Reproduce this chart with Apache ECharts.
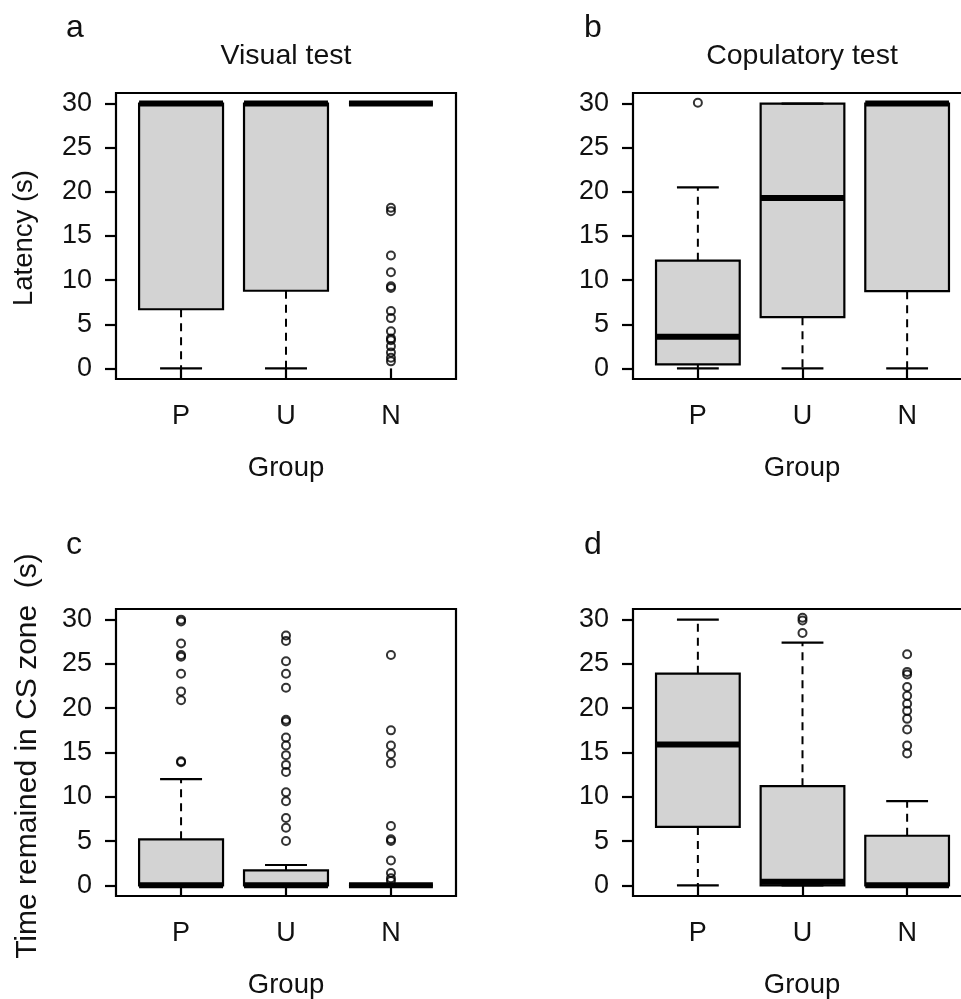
<!DOCTYPE html>
<html>
<head>
<meta charset="utf-8">
<script src="https://cdn.jsdelivr.net/npm/echarts@6/dist/echarts.min.js"></script>
<style>html,body{margin:0;padding:0;background:#fff;overflow:hidden;}#c{width:985px;height:999px;}</style>
</head>
<body>
<div id="c"></div>
<script>
// Categories and tick labels
const groups = ['P', 'U', 'N'];
const yTicks = [0, 5, 10, 15, 20, 25, 30];

// Box statistics per group: [lower whisker, Q1, median, Q3, upper whisker]
const visualLatencyStats = [[0, 6.7, 30, 30, 30], [0, 8.8, 30, 30, 30], [30, 30, 30, 30, 30]];
const visualLatencyOutliersP = [];
const visualLatencyOutliersU = [];
const visualLatencyOutliersN = [18.2, 17.8, 12.8, 10.9, 9.3, 9.1, 6.5, 5.7, 4.2, 3.4, 3.2, 2.5, 1.8, 1.2, 0.8];

const copulatoryLatencyStats = [[0, 0.45, 3.6, 12.2, 20.5], [0, 5.8, 19.3, 30, 30], [0, 8.75, 30, 30, 30]];
const copulatoryLatencyOutliersP = [30.1];
const copulatoryLatencyOutliersU = [];
const copulatoryLatencyOutliersN = [];

const visualTimeStats = [[0, 0, 0, 5.2, 12.0], [0, 0, 0, 1.7, 2.3], [0, 0, 0, 0, 0]];
const visualTimeOutliersP = [30.0, 29.8, 27.3, 26.0, 25.8, 23.9, 21.9, 20.9, 14.0, 13.9];
const visualTimeOutliersU = [28.2, 27.6, 25.3, 23.9, 22.3, 18.7, 18.5, 16.7, 15.8, 14.7, 13.6, 12.8, 10.5, 9.5, 7.6, 6.5, 5.0];
const visualTimeOutliersN = [26.0, 17.5, 15.8, 14.8, 13.8, 6.7, 5.2, 5.0, 2.8, 1.4, 0.8, 0.5];

const copulatoryTimeStats = [[0, 6.6, 15.9, 23.9, 30], [0, 0, 0.4, 11.2, 27.4], [0, 0, 0, 5.6, 9.5]];
const copulatoryTimeOutliersP = [];
const copulatoryTimeOutliersU = [30.2, 29.9, 28.5];
const copulatoryTimeOutliersN = [26.1, 24.1, 23.8, 22.4, 21.4, 20.5, 19.7, 18.8, 17.6, 15.8, 14.9];

const panels = [
  { stats: visualLatencyStats, outliers: [visualLatencyOutliersP, visualLatencyOutliersU, visualLatencyOutliersN] },
  { stats: copulatoryLatencyStats, outliers: [copulatoryLatencyOutliersP, copulatoryLatencyOutliersU, copulatoryLatencyOutliersN] },
  { stats: visualTimeStats, outliers: [visualTimeOutliersP, visualTimeOutliersU, visualTimeOutliersN] },
  { stats: copulatoryTimeStats, outliers: [copulatoryTimeOutliersP, copulatoryTimeOutliersU, copulatoryTimeOutliersN] }
];

const FONT = '"Liberation Sans", Arial, sans-serif';
const TXT = '#111';
const grids = [
  { left: 116, top: 93, width: 340, height: 286 },
  { left: 633, top: 93, width: 339, height: 286 },
  { left: 116, top: 609, width: 340, height: 287 },
  { left: 633, top: 609, width: 339, height: 287 }
];

function renderBox(params, api) {
  const x = api.value(0), lo = api.value(1), q1 = api.value(2), md = api.value(3), q3 = api.value(4), hi = api.value(5);
  const p = (a, b) => api.coord([a, b]);
  const bw = 0.4, sw = 0.2;
  const tl = p(x - bw, q3), br = p(x + bw, q1);
  const ch = [];
  ch.push({ type: 'rect', shape: { x: tl[0], y: tl[1], width: br[0] - tl[0], height: br[1] - tl[1] },
    style: { fill: '#d3d3d3', stroke: '#000', lineWidth: 2.2 } });
  const dash = { stroke: '#000', lineWidth: 2, lineDash: [8, 6] };
  const solid = { stroke: '#000', lineWidth: 2.2 };
  if (hi > q3) {
    const a = p(x, q3), b = p(x, hi);
    ch.push({ type: 'line', shape: { x1: a[0], y1: a[1], x2: b[0], y2: b[1] }, style: dash });
  }
  if (lo < q1) {
    const a = p(x, q1), b = p(x, lo);
    ch.push({ type: 'line', shape: { x1: a[0], y1: a[1], x2: b[0], y2: b[1] }, style: dash });
  }
  [hi, lo].forEach(v => {
    const a = p(x - sw, v), b = p(x + sw, v);
    ch.push({ type: 'line', shape: { x1: a[0], y1: a[1], x2: b[0], y2: b[1] }, style: solid });
  });
  const m1 = p(x - bw, md), m2 = p(x + bw, md);
  ch.push({ type: 'line', shape: { x1: m1[0], y1: m1[1], x2: m2[0], y2: m2[1] }, style: { stroke: '#000', lineWidth: 6 } });
  return { type: 'group', children: ch };
}

const xAxes = [], yAxes = [], series = [];
panels.forEach((pn, i) => {
  xAxes.push({
    gridIndex: i, type: 'value', min: 0.38, max: 3.62,
    axisLine: { show: false }, splitLine: { show: false },
    axisTick: { show: true, length: 11, inside: false, customValues: [1, 2, 3], lineStyle: { color: '#000', width: 2.2 } },
    axisLabel: { show: true, customValues: [1, 2, 3], margin: 24, fontSize: 27, fontFamily: FONT, color: TXT,
      formatter: v => groups[Math.round(v) - 1] || '' }
  });
  yAxes.push({
    gridIndex: i, type: 'value', min: -1.2, max: 31.2,
    axisLine: { show: false }, splitLine: { show: false },
    axisTick: { show: true, length: 11, inside: false, customValues: yTicks, lineStyle: { color: '#000', width: 2.2 } },
    axisLabel: { show: true, customValues: yTicks, margin: 24, fontSize: 27, fontFamily: FONT, color: TXT }
  });
  series.push({
    type: 'custom', xAxisIndex: i, yAxisIndex: i, renderItem: renderBox,
    data: pn.stats.map((s, k) => [k + 1].concat(s)), z: 2
  });
  const pts = [];
  pn.outliers.forEach((arr, k) => arr.forEach(v => pts.push([k + 1, v])));
  series.push({
    type: 'scatter', xAxisIndex: i, yAxisIndex: i, data: pts, symbol: 'circle', symbolSize: 8,
    itemStyle: { color: 'rgba(0,0,0,0)', borderColor: '#000', borderWidth: 2 }, z: 3, silent: true
  });
});

function txt(text, x, y, size, opts) {
  return Object.assign({ type: 'text', x: x, y: y, style: { text: text, fontSize: size, fontFamily: FONT, fill: TXT,
    textAlign: 'center', textVerticalAlign: 'middle' } }, opts || {});
}
const graphics = [
  txt('a', 66, 28, 32), txt('b', 584, 28, 32), txt('c', 66, 545, 32), txt('d', 584, 545, 32),
  txt('Visual test', 286, 56, 28.5), txt('Copulatory test', 802, 56, 28.5),
  txt('Group', 286, 468, 27.5), txt('Group', 802, 468, 27.5),
  txt('Group', 286, 985, 27.5), txt('Group', 802, 985, 27.5),
  txt('Latency (s)', 24, 238, 27.5, { rotation: Math.PI / 2 }),
  txt('Time remained in CS zone  (s)', 28, 756, 30, { rotation: Math.PI / 2 })
];
graphics.slice(0, 4).forEach(g => { g.style.textAlign = 'left'; });

const chart = echarts.init(document.getElementById('c'), null, { renderer: 'canvas', width: 985, height: 999 });
chart.setOption({
  backgroundColor: '#fff',
  animation: false,
  grid: grids.map(g => Object.assign({ show: true, borderColor: '#000', borderWidth: 2.2, backgroundColor: 'transparent', containLabel: false }, g)),
  xAxis: xAxes, yAxis: yAxes, series: series,
  graphic: { elements: graphics }
});
</script>
</body>
</html>
